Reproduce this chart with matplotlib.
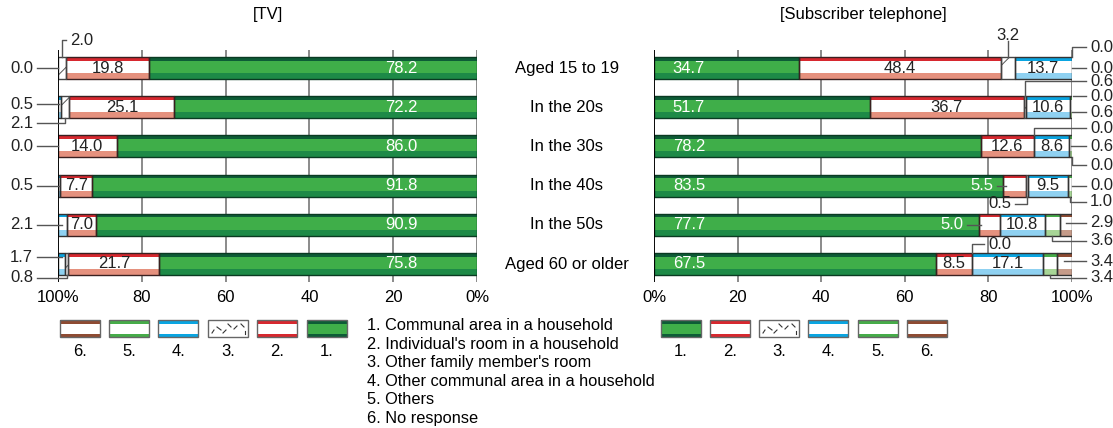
import numpy as np
import matplotlib.pyplot as plt
from matplotlib.patches import Rectangle

plt.rcParams['font.family'] = ['Liberation Sans', 'DejaVu Sans']
plt.rcParams['hatch.linewidth'] = 0.7

# ---- data ----
age_groups = ["Aged 15 to 19", "In the 20s", "In the 30s", "In the 40s",
              "In the 50s", "Aged 60 or older"]
legend_names = ["1. Communal area in a household",
                "2. Individual's room in a household",
                "3. Other family member's room",
                "4. Other communal area in a household",
                "5. Others",
                "6. No response"]

# TV
tv_1 = [78.2, 72.2, 86.0, 91.8, 90.9, 75.8]
tv_2 = [19.8, 25.1, 14.0, 7.7, 7.0, 21.7]
tv_3 = [2.0, 2.1, 0.0, 0.0, 0.0, 0.8]
tv_4 = [0.0, 0.5, 0.0, 0.5, 2.1, 1.7]
tv_5 = [0.0, 0.0, 0.0, 0.0, 0.0, 0.0]
tv_6 = [0.0, 0.0, 0.0, 0.0, 0.0, 0.0]

# Subscriber telephone
tel_1 = [34.7, 51.7, 78.2, 83.5, 77.7, 67.5]
tel_2 = [48.4, 36.7, 12.6, 5.5, 5.0, 8.5]
tel_3 = [3.2, 0.6, 0.0, 0.5, 0.0, 0.0]
tel_4 = [13.7, 10.6, 8.6, 9.5, 10.8, 17.1]
tel_5 = [0.0, 0.6, 0.6, 1.0, 3.6, 3.4]
tel_6 = [0.0, 0.0, 0.0, 0.0, 2.9, 3.4]

W, H = 1113, 428
ROW = 39.2          # px between rows
BH = 22 / ROW       # bar height in row units
TOPB = 3.5 / ROW
BOTB = 6 / ROW

# fill, top band, bottom band, edge, hatch
styles = {
    1: ('#3fae49', '#0d5c36', '#1d8a47', '#0a3a22', None),
    2: ('white', '#d7282f', '#e5917e', '#3a2020', None),
    3: ('white', None, None, '#444444', '/'),
    4: ('white', '#0aa5e1', '#8fd1f1', '#333333', None),
    5: ('white', '#46ac49', '#a7d596', '#333333', None),
    6: ('white', '#8e4b32', '#c59b89', '#333333', None),
}
DARK = '#222222'
LEAD = '#555555'

fig = plt.figure(figsize=(W / 100, H / 100), dpi=100)

# overlay in pixel coords for titles, categories and legend
ov = fig.add_axes([0, 0, 1, 1])
ov.set_xlim(0, W)
ov.set_ylim(H, 0)
ov.axis('off')

ax_l = fig.add_axes([58 / W, (H - 282) / H, 419 / W, 232 / H])
ax_r = fig.add_axes([654 / W, (H - 282) / H, 418 / W, 232 / H])


def lx(px):
    return 100 - (px - 58) / 419 * 100


def rx(px):
    return (px - 654) / 418 * 100


def segment(ax, row, left, width, cat):
    fill, top, bot, edge, hatch = styles[cat]
    if hatch:
        ax.barh(row, width, left=left, height=BH, color=fill,
                edgecolor='#555555', lw=0, hatch=hatch, zorder=3)
    else:
        ax.barh(row, width, left=left, height=BH, color=fill,
                edgecolor='none', zorder=3)
    if top:
        ax.barh(row - BH / 2 + TOPB / 2, width, left=left, height=TOPB,
                color=top, edgecolor='none', zorder=3)
        ax.barh(row + BH / 2 - BOTB / 2, width, left=left, height=BOTB,
                color=bot, edgecolor='none', zorder=3)
    ax.barh(row, width, left=left, height=BH, fill=False, edgecolor=edge,
            lw=1, zorder=4)


def setup(ax, inverted):
    ax.set_ylim(5 + 18 / ROW, -18 / ROW)
    ticks = [0, 20, 40, 60, 80, 100]
    ax.set_xticks(ticks)
    ax.set_xticklabels(['0%', '20', '40', '60', '80', '100%'])
    if inverted:
        ax.set_xlim(100, 0)
        ax.axvline(100, color='black', lw=1.3, zorder=5)
    else:
        ax.set_xlim(0, 100)
        ax.axvline(0, color='black', lw=1.3, zorder=5)
    ax.set_yticks([])
    ax.tick_params(length=0, pad=6, labelsize=12)
    for s in ax.spines.values():
        s.set_visible(False)
    ax.grid(axis='x', color='#777777', lw=1.2, zorder=0)
    ax.set_axisbelow(True)
    ax.patch.set_visible(False)


def draw_panel(ax, cats):
    vals = np.array(cats)
    for r in range(vals.shape[1]):
        left = 0.0
        for c in range(6):
            v = vals[c, r]
            if v > 0:
                segment(ax, r, left, v, c + 1)
            left += v
    return np.vstack([np.zeros(vals.shape[1]), np.cumsum(vals, axis=0)])


def note(ax, cum, row, cat, xconv, text_px, dy, ha, color=DARK,
         target=None):
    y = row + dy / ROW
    tx = target if target is not None else (cum[cat - 1, row] + cum[cat, row]) / 2
    val = cum[cat, row] - cum[cat - 1, row]
    label = f"{val:.1f}"
    if ha == 'center':
        ax.text(tx, y, label, ha='center', va='center', fontsize=12,
                color=color, clip_on=False, zorder=6)
        ax.plot([tx, tx], [y + 6 / ROW, row - BH / 2], color=LEAD, lw=1,
                clip_on=False, zorder=6)
        return
    ax.text(xconv(text_px), y, label, ha=ha, va='center', fontsize=12,
            color=color, clip_on=False, zorder=6)
    start = text_px - 4 if ha == 'left' else text_px + 4
    xs = [xconv(start), tx]
    ys = [y, y]
    if abs(dy) > 11:
        xs.append(tx)
        ys.append(row - BH / 2 if dy < 0 else row + BH / 2)
    ax.plot(xs, ys, color=LEAD, lw=1, clip_on=False, zorder=6)


# ---- left panel: TV ----
setup(ax_l, True)
cum_l = draw_panel(ax_l, [tv_1, tv_2, tv_3, tv_4, tv_5, tv_6])
for r in range(6):
    ax_l.text(18, r, f"{tv_1[r]:.1f}", ha='center', va='center',
              fontsize=12, color='white', zorder=6)
    ax_l.text((cum_l[1, r] + cum_l[2, r]) / 2, r, f"{tv_2[r]:.1f}",
              ha='center', va='center', fontsize=12, color=DARK, zorder=6)

tv_notes = [(0, 4, 33, 0, 'right'), (0, 3, 70, -28, 'left'),
            (1, 4, 33, -3, 'right'), (1, 3, 33, 16, 'right'),
            (2, 4, 33, 0, 'right'), (3, 4, 33, 0, 'right'),
            (4, 4, 33, 0, 'right'), (5, 4, 33, -7, 'right'),
            (5, 3, 33, 14, 'right')]
for row, cat, px, dy, ha in tv_notes:
    note(ax_l, cum_l, row, cat, lx, px, dy, ha)

# ---- right panel: subscriber telephone ----
setup(ax_r, False)
cum_r = draw_panel(ax_r, [tel_1, tel_2, tel_3, tel_4, tel_5, tel_6])
for r in range(6):
    ax_r.text(4.5, r, f"{tel_1[r]:.1f}", ha='left', va='center',
              fontsize=12, color='white', zorder=6)
    if r not in (3, 4):
        ax_r.text((cum_r[1, r] + cum_r[2, r]) / 2, r, f"{tel_2[r]:.1f}",
                  ha='center', va='center', fontsize=12, color=DARK, zorder=6)
    ax_r.text((cum_r[3, r] + cum_r[4, r]) / 2, r, f"{tel_4[r]:.1f}",
              ha='center', va='center', fontsize=12, color=DARK, zorder=6)

# small cat-2 values written inside the green bar
for row, px in [(3, 993), (4, 963)]:
    note(ax_r, cum_r, row, 2, rx, px, 0, 'right', color='white',
         target=cum_r[1, row] + 0.6)

tel_notes = [(0, 3, None, -33, 'center'),
             (0, 5, 1090, -21, 'left'), (0, 6, 1090, 0, 'left'),
             (1, 3, 1090, -26, 'left'), (1, 6, 1090, -11, 'left'),
             (1, 5, 1090, 5, 'left'),
             (2, 3, 1090, -18, 'left'), (2, 5, 1090, 0, 'left'),
             (2, 6, 1090, 19, 'left'),
             (3, 6, 1090, 0, 'left'), (3, 5, 1090, 16, 'left'),
             (3, 3, 1011, 18, 'right'),
             (4, 6, 1090, -2, 'left'), (4, 5, 1090, 16, 'left'),
             (5, 6, 1090, -3, 'left'), (5, 5, 1090, 14, 'left'),
             (5, 3, 988, -20, 'left')]
for row, cat, px, dy, ha in tel_notes:
    note(ax_r, cum_r, row, cat, rx, px, dy, ha)

# ---- titles and category labels ----
ov.text(267.5, 14, "[TV]", ha='center', va='center', fontsize=12)
ov.text(863, 14, "[Subscriber telephone]", ha='center', va='center',
        fontsize=12)
for i, name in enumerate(age_groups):
    ov.text(567, 68 + i * ROW, name, ha='center', va='center', fontsize=12)

# scattered dash texture for the "3." legend swatch (relative to box corner)
dash_pattern = [((4, 13), (6, 10)), ((9, 7), (13, 10)), ((15, 13), (18, 10)),
                ((20, 4), (23, 7)), ((26, 9), (29, 6)), ((33, 4), (36, 7)),
                ((37, 11), (37, 14))]


# ---- legends ----
def legend_box(x, cat):
    fill, top, bot, edge, hatch = styles[cat]
    ov.add_patch(Rectangle((x, 320), 40, 17, facecolor=fill,
                           edgecolor='none'))
    if hatch:
        for (x0, y0), (x1, y1) in dash_pattern:
            ov.plot([x + x0, x + x1], [320 + y0, 320 + y1], color='#333333',
                    lw=0.8)
    if top:
        band = '#0d5c36' if cat == 1 else top
        ov.add_patch(Rectangle((x, 320), 40, 3.5, facecolor=band,
                               edgecolor='none'))
        ov.add_patch(Rectangle((x, 333.5), 40, 3.5, facecolor=band,
                               edgecolor='none'))
    ov.add_patch(Rectangle((x, 320), 40, 17, fill=False, edgecolor='#666666',
                           lw=1))
    ov.text(x + 20, 352, f"{cat}.", ha='center', va='center', fontsize=12)


for x, cat in zip([60, 109, 158, 208, 257, 307], [6, 5, 4, 3, 2, 1]):
    legend_box(x, cat)
for x, cat in zip([661, 710, 759, 808, 858, 907], [1, 2, 3, 4, 5, 6]):
    legend_box(x, cat)
for i, name in enumerate(legend_names):
    ov.text(367, 325.5 + i * 18.6, name, ha='left', va='center', fontsize=11.8)

fig.savefig("out.png", dpi=100)
